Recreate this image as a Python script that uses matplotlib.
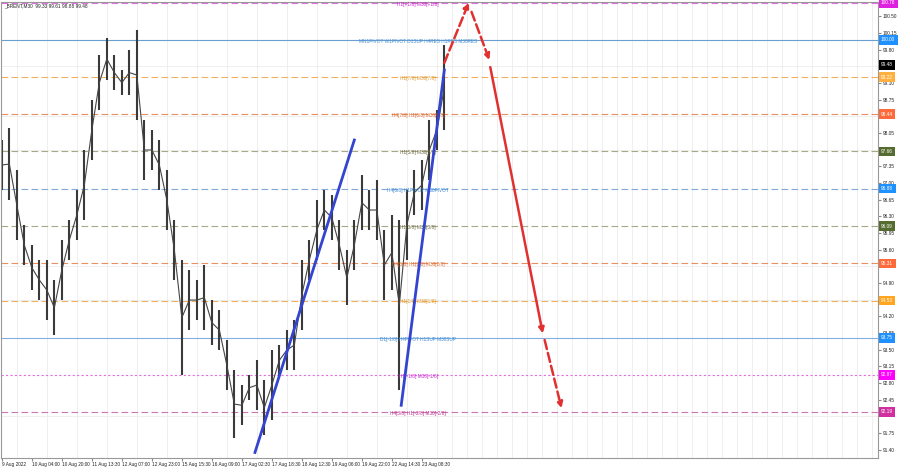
import numpy as np
import matplotlib.pyplot as plt
from matplotlib.transforms import blended_transform_factory

plt.rcParams['font.family'] = ['Liberation Sans', 'DejaVu Sans']

# price samples, every 8 M30 bars (high / low)
bar_step = 8
price_hi = [97.90, 98.15, 97.27, 96.11, 95.69, 95.38, 95.38, 94.96, 95.80, 96.22,
            96.85, 97.69, 98.74, 99.68, 100.04, 99.68, 99.37, 99.79, 100.21, 98.32,
            98.11, 97.90, 97.27, 96.22, 95.38, 95.17, 94.96, 95.27, 94.54, 94.33,
            93.70, 93.07, 92.75, 92.96, 93.28, 92.86, 93.49, 93.59, 93.91, 94.12,
            95.38, 95.80, 96.64, 96.85, 96.74, 96.22, 95.59, 96.22, 97.16, 96.85,
            97.06, 96.01, 96.32, 96.22, 96.85, 97.27, 97.48, 98.32, 98.53, 99.89]
price_lo = [96.85, 96.64, 95.80, 95.27, 94.75, 94.54, 94.12, 93.80, 94.54, 95.38,
            95.80, 96.22, 97.48, 98.53, 99.16, 98.95, 98.84, 98.84, 98.32, 97.06,
            97.27, 96.85, 96.01, 94.96, 92.96, 93.91, 94.12, 93.91, 93.59, 93.49,
            92.65, 91.64, 91.91, 92.44, 92.23, 91.70, 92.02, 92.96, 93.07, 93.07,
            93.91, 94.96, 95.38, 96.01, 95.80, 95.17, 94.43, 95.17, 96.01, 96.01,
            95.80, 94.54, 94.75, 92.65, 95.38, 96.32, 96.43, 97.06, 97.69, 98.11]
last_close = 99.48

levels = [100.78, 100.00, 99.22, 98.44, 97.66, 96.88, 96.09, 95.31, 94.53, 93.75, 92.97, 92.19]
level_names = ["H1[+1/8] M30[+1/8]",
               "MN1PIVOT W1PIVOT D1SUP H4RES H1RES M30RES",
               "H1[7/8] M30[7/8]",
               "H4[7/8] H1[6/8] M30[6/8]",
               "H1[5/8] M30[5/8]",
               "H4[6/8] H1PIVOT M30PIVOT",
               "H1[3/8] M30[3/8]",
               "H4[5/8] H1[2/8] M30[2/8]",
               "H1[1/8] M30[1/8]",
               "D1[-1/8] H4PIVOT H1SUP M30SUP",
               "H1[-1/8] M30[-1/8]",
               "H4[3/8] H1[-2/8] M30[-2/8]"]

price_ticks = [91.40, 91.75, 92.45, 92.80, 93.15, 93.50, 93.85, 94.20, 94.90, 95.60,
               95.95, 96.30, 96.65, 97.00, 97.35, 98.05, 98.75, 99.10, 99.80, 100.15, 100.50]

time_labels = ["9 Aug 2022", "10 Aug 04:00", "10 Aug 20:00", "11 Aug 13:30", "12 Aug 07:00",
               "12 Aug 23:00", "15 Aug 15:30", "16 Aug 09:00", "17 Aug 02:30", "17 Aug 18:30",
               "18 Aug 12:30", "19 Aug 06:00", "19 Aug 22:00", "22 Aug 14:30", "23 Aug 08:30"]

# trend lines and forecast arrows (bar index, price)
trend1_t = [270, 376]
trend1_p = [91.34, 97.90]
trend2_t = [426, 472]
trend2_p = [92.33, 99.37]
fc_t = [472, 498, 501, 520, 521, 577, 579, 597]
fc_p = [99.52, 100.78, 100.59, 99.58, 99.43, 93.84, 93.70, 92.27]

line_col = ['#e070e0', '#6a9fd4', '#f0b060', '#e89060', '#a8a888', '#80a8d8',
            '#a8a888', '#e89060', '#f0b060', '#80b0e0', '#e070e0', '#c878b0']
line_ls = [(0, (6, 3)), '-', (0, (6, 3)), (0, (6, 3)), (0, (6, 3)), (0, (6, 3)),
           (0, (6, 3)), (0, (6, 3)), (0, (6, 3)), '-', (0, (2, 2)), (0, (6, 3))]
text_col = ['#d020d0', '#4a90d0', '#e09a30', '#e06a30', '#6b6b40', '#3a8ad8',
            '#6b6b40', '#e06a30', '#e09a30', '#3a8ad8', '#d020d0', '#c03090']
box_col = ['#e020e0', '#1e90ff', '#ffb040', '#ff6a3a', '#556b2f', '#1e90ff',
           '#556b2f', '#ff6a3a', '#ffa520', '#1e90ff', '#ff00ff', '#d0309f']

fig = plt.figure(figsize=(9, 4.68), dpi=100)
ax = fig.add_axes([0.001, 0.021, 0.975, 0.975])
ax.set_xlim(-1, 935)
ax.set_ylim(91.22, 100.80)

ax.set_yticks(price_ticks)
ax.set_yticklabels(["%.2f" % v for v in price_ticks])
ax.set_yticks(np.round(np.arange(91.40, 100.80, 0.35), 2), minor=True)
ax.yaxis.tick_right()
xt = np.arange(len(time_labels)) * 32
ax.set_xticks(xt)
ax.set_xticklabels(time_labels, ha='left')
ax.set_xticks(np.arange(0, 936, 16), minor=True)
ax.tick_params(axis='both', labelsize=3.4, length=2, color='#888888', labelcolor='#222222', pad=1)
ax.tick_params(which='minor', length=0)
ax.grid(True, which='minor', color='#ececec', lw=0.6)
ax.set_axisbelow(True)
for s in ax.spines.values():
    s.set_color('#999999')
    s.set_linewidth(0.8)

# levels
tr = blended_transform_factory(ax.transAxes, ax.transData)
for lv, name, lc, ls, tc, bc in zip(levels, level_names, line_col, line_ls, text_col, box_col):
    ax.axhline(lv, color=lc, ls=ls, lw=0.8, zorder=1)
    ax.text(444, lv - 0.03, name, fontsize=3.4, color=tc, ha='center', va='center', zorder=3)
    ax.text(1.003, lv, "%.2f" % lv, transform=tr, fontsize=3.4, color='white', ha='left',
            va='center', clip_on=False, zorder=5,
            bbox=dict(boxstyle='square,pad=0.5', fc=bc, ec='none'))
ax.text(1.003, last_close, "%.2f" % last_close, transform=tr, fontsize=3.4, color='white',
        ha='left', va='center', clip_on=False, zorder=5,
        bbox=dict(boxstyle='square,pad=0.5', fc='black', ec='none'))

# price
bars = np.arange(len(price_hi)) * bar_step
ax.vlines(bars, price_lo, price_hi, color='#3a3a3a', lw=1.5, zorder=2)
mid = (np.array(price_hi) + np.array(price_lo)) / 2
ax.plot(bars, mid, color='#444444', lw=0.8, zorder=2)

# trend lines
ax.plot(trend1_t, trend1_p, color='#3344d0', lw=2, zorder=4)
ax.plot(trend2_t, trend2_p, color='#3344d0', lw=2, zorder=4)

# forecast arrows
styles = ['--', '--', '-', '--']
for k in range(4):
    x0, x1 = fc_t[2 * k], fc_t[2 * k + 1]
    y0, y1 = fc_p[2 * k], fc_p[2 * k + 1]
    ax.annotate('', xy=(x1, y1), xytext=(x0, y0), zorder=4,
                arrowprops=dict(arrowstyle='-|>', color='#e03030', lw=1.8, ls=styles[k],
                                mutation_scale=8, shrinkA=0, shrinkB=0))

ax.text(0.004, 0.996, "_BRENT,M30  99.33 99.61 98.88 99.48", transform=ax.transAxes,
        fontsize=3.4, color='#222222', ha='left', va='top')

fig.savefig("out.png", dpi=100)
